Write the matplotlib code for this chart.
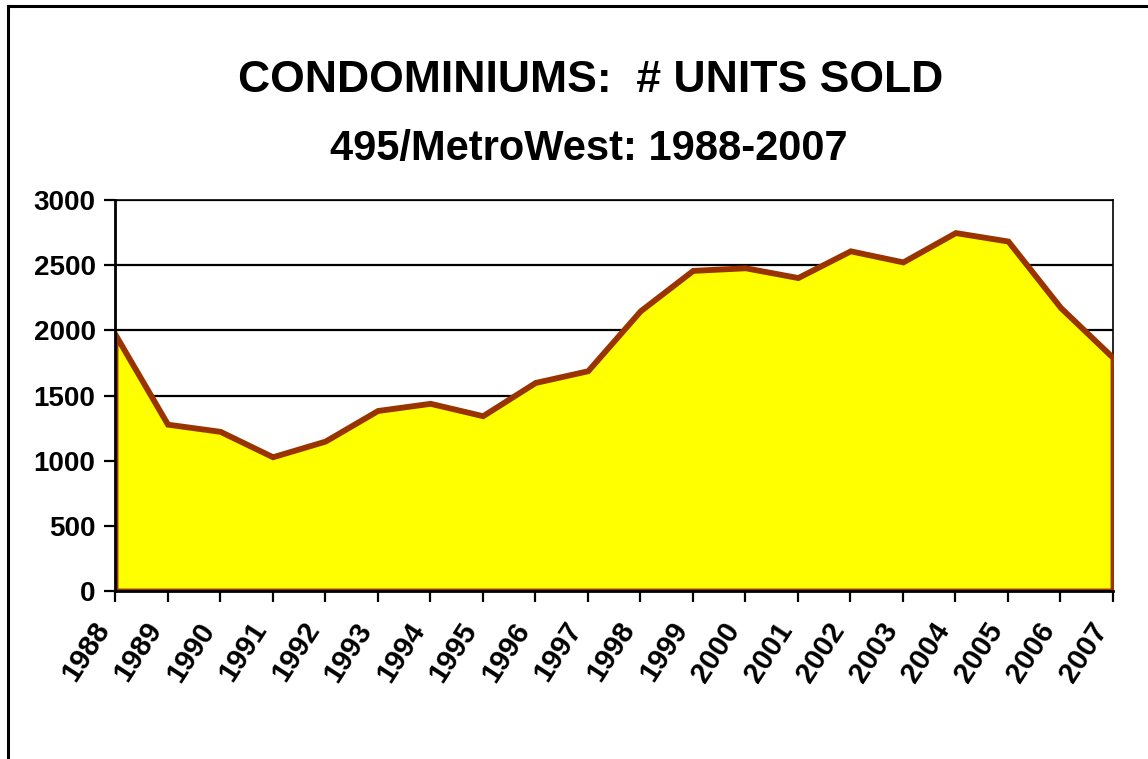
import numpy as np
import matplotlib
matplotlib.use('Agg')
from matplotlib import pyplot as plt
from matplotlib.lines import Line2D
from matplotlib.transforms import ScaledTranslation

years = [str(y) for y in range(1988, 2008)]
units_sold = [1970, 1280, 1225, 1030, 1150, 1385, 1440, 1345, 1600, 1690,
              2150, 2460, 2480, 2405, 2610, 2525, 2750, 2685, 2175, 1790]
y_ticks = [0, 500, 1000, 1500, 2000, 2500, 3000]

title = 'CONDOMINIUMS:  # UNITS SOLD'
subtitle = '495/MetroWest: 1988-2007'

plt.rcParams['font.family'] = ['Liberation Sans', 'DejaVu Sans']
plt.rcParams['font.weight'] = 'bold'

W, H = 1148, 759
fig = plt.figure(figsize=(W / 100, H / 100), dpi=100)
ax = fig.add_axes([115 / W, 1 - 591 / H, (1113 - 115) / W, (591 - 200) / H])

x = np.arange(len(years))
poly = ax.fill_between(x, units_sold, 0, facecolor='#FFFF00', edgecolor='#993300',
                       linewidth=4.2, zorder=3)
poly.set_joinstyle('miter')

ax.set_xlim(0, len(years) - 1)
ax.set_ylim(0, 3000)
ax.set_yticks(y_ticks)
ax.set_yticklabels([str(v) for v in y_ticks], fontsize=20, fontweight='bold')
ax.set_xticks(x)
ax.set_xticklabels(years, fontsize=21, fontweight='bold', rotation=57,
                   ha='right', va='top')
# nudge the rotated year labels a little to the left of their ticks
shift = ScaledTranslation(-6 / 100, 0, fig.dpi_scale_trans)
for lbl in ax.get_xticklabels():
    lbl.set_transform(lbl.get_transform() + shift)
ax.yaxis.grid(True, color='black', linewidth=1.6)
ax.set_axisbelow(True)
ax.tick_params(axis='both', direction='out', length=8, width=1.6, color='black')
ax.tick_params(axis='x', pad=11)
ax.tick_params(axis='y', pad=6)
for side in ['left', 'bottom']:
    ax.spines[side].set_linewidth(2)
    ax.spines[side].set_zorder(4)
for side in ['top', 'right']:
    ax.spines[side].set_linewidth(1.2)

fig.text(591 / W, 1 - 80 / H, title, ha='center', va='center', fontsize=32, fontweight='bold')
fig.text(589 / W, 1 - 149 / H, subtitle, ha='center', va='center', fontsize=30, fontweight='bold')

# outer frame (top and left edges only visible)
fig.add_artist(Line2D([8 / W, 1.0], [1 - 6 / H, 1 - 6 / H], color='black', linewidth=2.2))
fig.add_artist(Line2D([8 / W, 8 / W], [0, 1 - 6 / H], color='black', linewidth=2.2))

fig.savefig('out.png', dpi=100)
